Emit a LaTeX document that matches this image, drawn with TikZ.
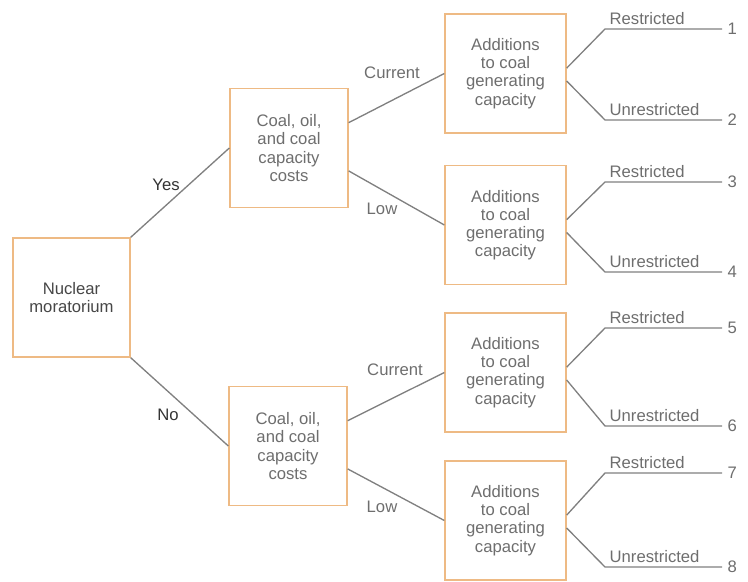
\documentclass[tikz,border=0pt]{standalone}
\usepackage{fontspec}
\setmainfont{Liberation Sans}
\usepackage{xcolor}
\definecolor{boxorange}{RGB}{238,186,132}
\definecolor{linegray}{RGB}{128,128,128}
\definecolor{textgray}{RGB}{110,110,110}

\begin{document}
\begin{tikzpicture}[x=0.75pt, y=-0.75pt,
	every node/.style={font=\fontsize{12.5}{13.6}\selectfont, text=textgray},
	choice/.style={draw=boxorange, line width=1pt, fill=white, align=center, minimum height=89.25pt, inner sep=2pt},
	link/.style={draw=linegray, line width=1pt},
	lbl/.style={inner sep=1pt},]

\useasboundingbox (0,0) rectangle (748,581);

\node[choice, minimum width=87.75pt, text=black!72] (nuc) at (71.5,297.5) {Nuclear\\moratorium};
\node[choice, minimum width=88.5pt] (coalY) at (289,148) {Coal, oil,\\and coal\\capacity\\costs};
\node[choice, minimum width=88.5pt] (coalN) at (288,446) {Coal, oil,\\and coal\\capacity\\costs};
\node[choice, minimum width=90.75pt] (add1) at (505.5,73.5) {Additions\\to coal\\generating\\capacity};
\node[choice, minimum width=90.75pt] (add2) at (505.5,225) {Additions\\to coal\\generating\\capacity};
\node[choice, minimum width=90.75pt] (add3) at (505.5,372.5) {Additions\\to coal\\generating\\capacity};
\node[choice, minimum width=90.75pt] (add4) at (505.5,520.5) {Additions\\to coal\\generating\\capacity};

\draw[link] (nuc.north east) -- (coalY.west);
\draw[link] (nuc.south east) -- (coalN.west);
\draw[link] (coalY.23) -- (add1.west);
\draw[link] (coalY.-21) -- (add2.west);
\draw[link] (coalN.23) -- (add3.west);
\draw[link] (coalN.-21) -- (add4.west);

\node[lbl, text=black!80] (yes) at (166,185) {Yes};
\node[lbl, text=black!80] (no) at (168,415) {No};
\node[lbl] (curY) at (392,73) {Current};
\node[lbl] (lowY) at (382,209) {Low};
\node[lbl] (curN) at (395,370) {Current};
\node[lbl] (lowN) at (382,507) {Low};

% outcomes 1 to 8
\foreach \a/\yr/\yu/\m/\n in {add1/29/120/1/2, add2/182/272/3/4, add3/328/426/5/6, add4/473/567/7/8} {
	\node[lbl, anchor=west, inner sep=4pt] (o\m) at (722,\yr) {\m};
	\node[lbl, anchor=west, inner sep=4pt] (o\n) at (722,\yu) {\n};
	\draw[link] (\a.5) -- (605,\yr) node[lbl, above right, inner sep=3pt] {Restricted} -- (o\m.west);
	\draw[link] (\a.-7) -- (605,\yu) node[lbl, above right, inner sep=3pt] {Unrestricted} -- (o\n.west);
}

\end{tikzpicture}
\end{document}
